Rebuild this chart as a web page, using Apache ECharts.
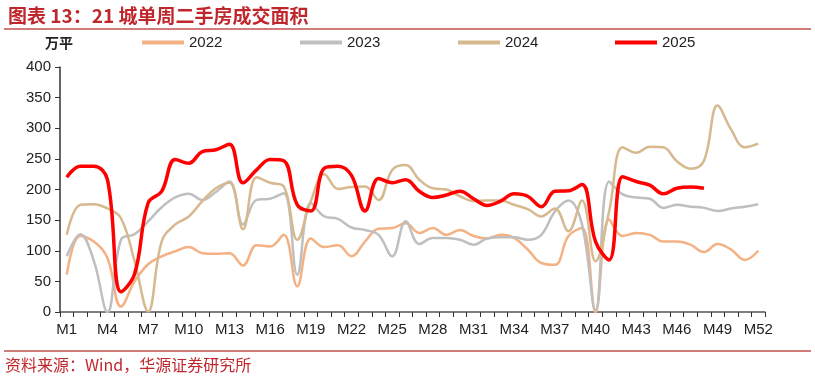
<!DOCTYPE html>
<html><head><meta charset="utf-8">
<script src="https://cdn.jsdelivr.net/npm/echarts@6/dist/echarts.min.js"></script>
<style>html,body{margin:0;padding:0;background:#fff}#c{width:815px;height:384px}</style>
</head><body><div id="c"></div>
<script>
var weeks = [];
for (var i = 1; i <= 52; i++) weeks.push('M' + i);
var s2022 = [61,124,115,88,9,50,78,91,99,106,96,95,96,76,109,107,126,42,120,106,109,91,115,136,137,145,129,137,126,134,124,120,126,121,102,80,77,124,137,0,151,124,129,126,115,115,110,98,111,102,85,100];
var s2023 = [91,127,83,0,118,127,148,171,187,193,183,196,213,143,183,185,194,61,178,156,152,138,134,126,91,148,111,121,121,118,110,120,122,122,118,126,164,182,143,3,213,192,187,185,170,175,172,170,165,169,172,176];
var s2024 = [126,175,176,169,153,83,1,115,143,156,181,202,211,135,220,211,205,118,181,225,201,204,205,183,232,240,216,202,200,189,181,182,182,175,168,156,169,132,182,83,164,269,260,270,269,246,234,247,337,298,269,275];
var s2025 = [220,238,238,216,33,62,178,197,249,243,262,265,274,211,232,249,247,175,165,235,238,223,165,218,211,216,197,187,191,197,185,174,181,193,189,172,197,198,208,115,85,221,213,207,193,202,204,202];
var yTicks = [0,50,100,150,200,250,300,350,400];

var chart = echarts.init(document.getElementById('c'));
function mk(name, data, color, width, z) {
  return {name: name, type: 'line', data: data, smooth: 0.4, symbol: 'none',
    lineStyle: {color: color, width: width}, itemStyle: {color: color}, z: z};
}
function lg(name, left) {
  return {data: [name], left: left, top: 35, itemWidth: 42, itemHeight: 4, icon: 'rect',
    textStyle: {fontSize: 15, color: '#222', fontFamily: 'Liberation Sans'}, itemGap: 0, padding: 0};
}
chart.setOption({
  animation: false,
  title: {text: '图表 13：21 城单周二手房成交面积', left: 3, top: 1,
    textStyle: {color: '#C0272D', fontSize: 19, fontWeight: 'bold', fontFamily: 'Noto Sans CJK SC'}},
  legend: [lg('2022', 142), lg('2023', 300), lg('2024', 458), lg('2025', 615)],
  grid: {left: 60, right: 50, top: 67, bottom: 72, containLabel: false},
  xAxis: {type: 'category', data: weeks, boundaryGap: true,
    axisLine: {lineStyle: {color: '#555', width: 1.5}},
    axisTick: {show: true, interval: 0, length: 5, lineStyle: {color: '#333'}},
    axisLabel: {interval: 2, fontSize: 15, color: '#222', fontFamily: 'Liberation Sans', margin: 10}},
  yAxis: {type: 'value', min: yTicks[0], max: yTicks[yTicks.length - 1], interval: 50,
    axisLine: {show: true, lineStyle: {color: '#333', width: 1.5}},
    axisTick: {show: true, length: 5, lineStyle: {color: '#333'}},
    splitLine: {show: false},
    axisLabel: {fontSize: 15, color: '#222', fontFamily: 'Liberation Sans', margin: 9}},
  graphic: [
    {type: 'line', shape: {x1: 4, y1: 29, x2: 811, y2: 29}, style: {stroke: '#C0504D', lineWidth: 1.5}},
    {type: 'line', shape: {x1: 4, y1: 351, x2: 811, y2: 351}, style: {stroke: '#C0504D', lineWidth: 1.5}},
    {type: 'text', left: 45, top: 36, style: {text: '万平', fill: '#222', font: 'bold 14px "Noto Sans CJK SC"'}},
    {type: 'text', left: 5, top: 357, style: {text: '资料来源：Wind，华源证券研究所', fill: '#C0272D', font: '16px "Noto Sans CJK SC"'}}
  ],
  series: [
    mk('2022', s2022, '#F4B183', 2.5, 2),
    mk('2023', s2023, '#BFBFBF', 2.5, 3),
    mk('2024', s2024, '#D6B98F', 2.5, 4),
    mk('2025', s2025, '#FF0000', 3.5, 5)
  ]
});
</script></body></html>
